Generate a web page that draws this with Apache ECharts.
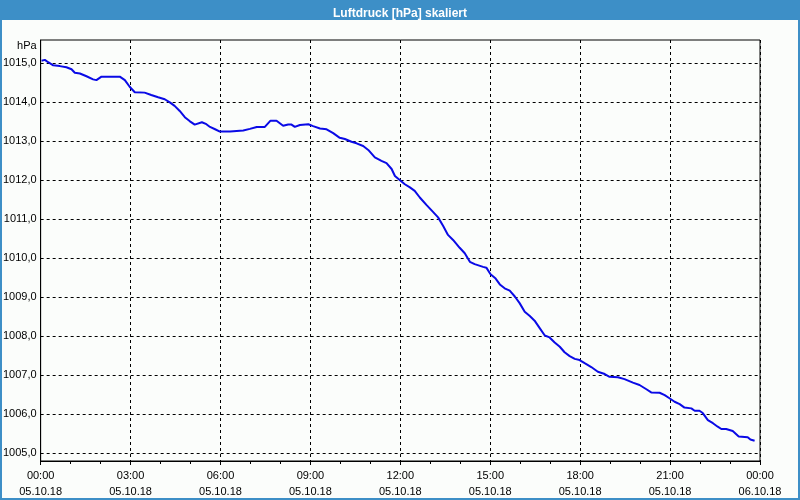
<!DOCTYPE html>
<html>
<head>
<meta charset="utf-8">
<script src="https://cdn.jsdelivr.net/npm/echarts@6/dist/echarts.min.js"></script>
<style>
html,body{margin:0;padding:0;background:#fbfdfb;}
#chart{width:800px;height:500px;}
</style>
</head>
<body>
<div id="chart"></div>
<script>
// time of day in hours (05.10.18)
const hours = [0.03,0.14,0.25,0.42,0.64,0.86,1.03,1.14,1.31,1.53,1.75,1.86,2.03,2.64,2.81,2.97,3.14,3.47,3.69,3.92,
  4.14,4.31,4.47,4.64,4.81,4.97,5.14,5.38,5.53,5.65,5.82,5.98,6.32,6.37,6.76,6.98,7.21,7.48,7.67,7.87,
  8.09,8.26,8.37,8.48,8.65,8.93,9.09,9.32,9.54,9.76,9.98,10.15,10.37,10.54,10.76,10.93,11.15,11.37,11.54,11.71,
  11.82,11.98,12.15,12.32,12.48,12.65,12.87,13.09,13.26,13.43,13.59,13.76,13.98,14.15,14.32,14.48,14.76,14.87,15.01,15.18,
  15.32,15.48,15.65,15.82,15.98,16.15,16.32,16.48,16.65,16.82,16.98,17.15,17.32,17.48,17.65,17.82,17.98,18.15,18.37,18.59,
  18.82,18.98,19.26,19.48,19.76,19.98,20.21,20.37,20.65,20.82,20.98,21.15,21.32,21.48,21.71,21.82,21.98,22.09,22.26,22.43,
  22.59,22.71,22.87,23.09,23.29,23.59,23.68,23.82];
const pressure = [1015.07,1015.09,1015.03,1014.95,1014.93,1014.90,1014.85,1014.76,1014.74,1014.67,1014.59,1014.57,1014.66,1014.66,1014.57,1014.40,1014.26,1014.25,1014.19,1014.13,
  1014.08,1014.00,1013.91,1013.78,1013.62,1013.52,1013.43,1013.49,1013.44,1013.37,1013.31,1013.25,1013.25,1013.28,1013.28,1013.32,1013.37,1013.37,1013.53,1013.53,
  1013.40,1013.43,1013.43,1013.37,1013.42,1013.44,1013.39,1013.33,1013.31,1013.21,1013.09,1013.06,1012.99,1012.95,1012.88,1012.78,1012.59,1012.50,1012.44,1012.29,
  1012.11,1012.01,1011.90,1011.82,1011.73,1011.56,1011.37,1011.19,1011.05,1010.83,1010.60,1010.47,1010.27,1010.13,1009.91,1009.85,1009.78,1009.76,1009.59,1009.48,
  1009.33,1009.23,1009.17,1009.02,1008.85,1008.63,1008.52,1008.40,1008.21,1008.02,1007.97,1007.84,1007.73,1007.59,1007.49,1007.42,1007.39,1007.31,1007.21,1007.09,
  1007.03,1006.96,1006.95,1006.90,1006.81,1006.75,1006.64,1006.56,1006.55,1006.49,1006.41,1006.32,1006.26,1006.17,1006.15,1006.09,1006.09,1006.03,1005.85,1005.77,
  1005.68,1005.62,1005.62,1005.57,1005.43,1005.41,1005.35,1005.32];
const yTicks = [1005,1006,1007,1008,1009,1010,1011,1012,1013,1014,1015];
const dateStart = '05.10.18';
const dateEnd = '06.10.18';
const titleText = 'Luftdruck [hPa] skaliert';
const unitText = 'hPa';

const FONT = '"Liberation Sans", Arial, sans-serif';
const data = hours.map((h, i) => [h, pressure[i]]);
const chart = echarts.init(document.getElementById('chart'), null, {renderer: 'canvas'});
chart.setOption({
  backgroundColor: '#fbfdfb',
  animation: false,
  title: {
    text: titleText, left: 'center', top: 3,
    textStyle: {color: '#ffffff', fontFamily: FONT, fontSize: 12, fontWeight: 'bold'}
  },
  graphic: [
    {type: 'rect', z: -1, shape: {x: 0, y: 0, width: 800, height: 20}, style: {fill: '#3d8fc7'}},
    {type: 'rect', z: -1, shape: {x: 1, y: 1, width: 798, height: 498}, style: {fill: null, stroke: '#3d8fc7', lineWidth: 2}}
  ],
  grid: {left: 40, right: 40, top: 40, bottom: 39, show: true, borderColor: '#000', borderWidth: 1, backgroundColor: 'transparent'},
  xAxis: {
    type: 'value', min: 0, max: 24, interval: 3,
    axisLine: {show: true, lineStyle: {color: '#000', width: 1}},
    axisTick: {show: true, length: 4, lineStyle: {color: '#000'}},
    minorTick: {show: true, splitNumber: 3, length: 3, lineStyle: {color: '#000'}},
    splitLine: {show: true, lineStyle: {color: '#000', type: [3, 3], width: 1}},
    axisLabel: {
      color: '#000', fontFamily: FONT, fontSize: 11, lineHeight: 16, margin: 7,
      formatter: function (v) {
        const h = Math.round(v) % 24;
        const d = v >= 24 ? dateEnd : dateStart;
        return (h < 10 ? '0' : '') + h + ':00\n' + d;
      }
    }
  },
  yAxis: {
    type: 'value', min: 1004.8, max: 1015.6,
    name: unitText, nameLocation: 'end', nameGap: -6,
    nameTextStyle: {color: '#000', fontFamily: FONT, fontSize: 11, align: 'right', verticalAlign: 'middle', padding: [0, 4, 0, 0]},
    axisLine: {show: true, lineStyle: {color: '#000', width: 1}},
    axisTick: {show: false, customValues: yTicks},
    splitLine: {show: true, lineStyle: {color: '#000', type: [3, 3], width: 1}},
    axisLabel: {
      customValues: yTicks, color: '#000', fontFamily: FONT, fontSize: 11, margin: 4,
      formatter: function (v) { return v.toFixed(1).replace('.', ','); }
    }
  },
  series: [{
    type: 'line', data: data, showSymbol: false, symbol: 'none',
    lineStyle: {color: '#0a0ae6', width: 2}, clip: true
  }]
});
</script>
</body>
</html>
